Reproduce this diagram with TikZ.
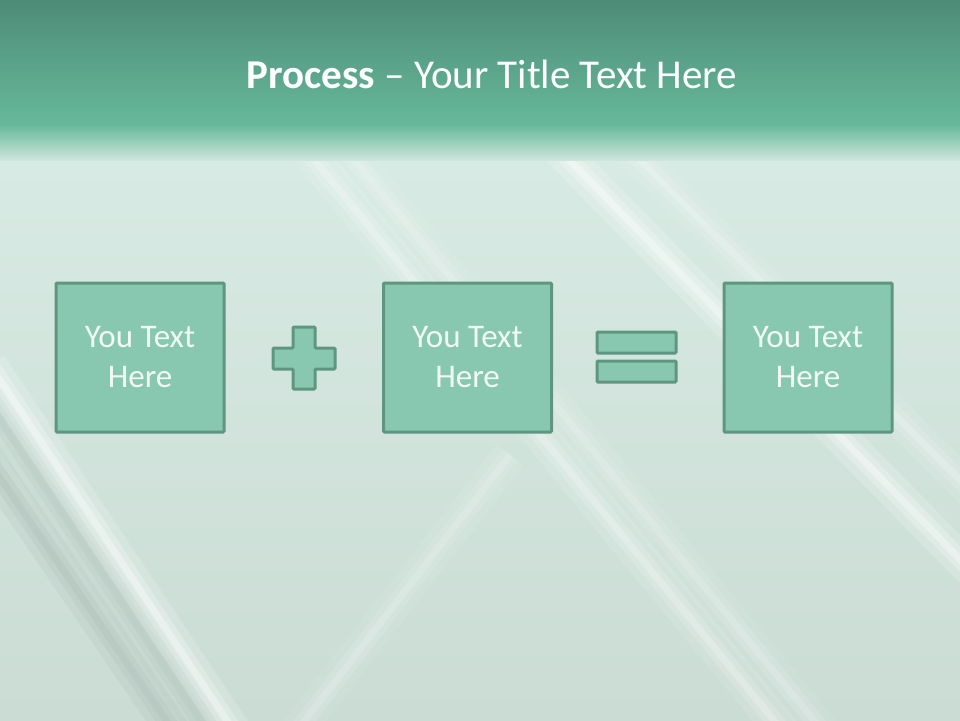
\documentclass[tikz,border=0pt]{standalone}
\usepackage{fontspec}
\setmainfont{Carlito}
\definecolor{hdtop}{HTML}{4E8C78}
\definecolor{hdbot}{HTML}{67B99B}
\definecolor{bgtop}{HTML}{D8EBE4}
\definecolor{bgbot}{HTML}{CADCD4}
\definecolor{boxfill}{HTML}{88C8B0}
\definecolor{boxline}{HTML}{5E9682}
\definecolor{txt}{HTML}{F2FAF6}
\definecolor{graystreak}{HTML}{B4C4BE}
\tikzset{
  panel/.style={fill=boxfill, draw=boxline, line width=3pt, rounded corners=1pt},
  panelnode/.style={panel, minimum width=168pt, minimum height=149pt, align=center,
     text=txt, font=\fontsize{33}{40}\selectfont, inner sep=0pt},
  soft/.style={line cap=butt},
}
\newcommand{\softline}[4]{% color, max opacity, from, to
  \draw[soft, #1, opacity=#2*0.25, line width=34pt] #3 -- #4;
  \draw[soft, #1, opacity=#2*0.35, line width=18pt] #3 -- #4;
  \draw[soft, #1, opacity=#2*0.5, line width=7pt] #3 -- #4;
}
\begin{document}
\begin{tikzpicture}[x=1pt,y=-1pt]
\useasboundingbox (0,0) rectangle (960,720);
\begin{scope}
\clip (0,125) rectangle (960,720);
% body background
\shade[top color=bgtop, bottom color=bgbot] (0,125) rectangle (960,720);
% soft darker band lower left
\softline{graystreak}{1}{(-60,390)}{(200,770)}
\softline{graystreak}{0.6}{(-60,330)}{(240,780)}
% streaks
\softline{white}{0.7}{(-10,365)}{(240,740)}
\softline{white}{0.45}{(290,130)}{(790,740)}
\softline{white}{0.3}{(330,130)}{(830,740)}
\softline{white}{0.7}{(540,130)}{(1000,600)}
\softline{white}{0.35}{(610,130)}{(1000,520)}
\softline{white}{0.3}{(510,455)}{(290,740)}
\end{scope}
% header
\shade[top color=hdtop, bottom color=hdbot] (0,0) rectangle (960,126);
\shade[top color=hdbot, bottom color=bgtop!90!hdbot] (0,125) rectangle (960,160);
% title
\node[anchor=base, text=white, font=\fontsize{41}{48}\selectfont, inner sep=0pt] (title) at (492,88)
  {\textbf{Process} – Your Title Text Here};
% panels
\node[panelnode] (b1) at (140,357.5) {You Text\\Here};
\node[panelnode] (b2) at (467.5,357.5) {You Text\\Here};
\node[panelnode] (b3) at (808,357.5) {You Text\\Here};
% plus sign
\draw[panel] (293,327) -- (315,327) -- (315,348) -- (335,348) -- (335,369) -- (315,369)
  -- (315,389) -- (293,389) -- (293,369) -- (273,369) -- (273,348) -- (293,348) -- cycle;
% equals sign
\draw[panel] (597,332) rectangle (676,353);
\draw[panel] (597,361) rectangle (676,382);
\end{tikzpicture}
\end{document}
